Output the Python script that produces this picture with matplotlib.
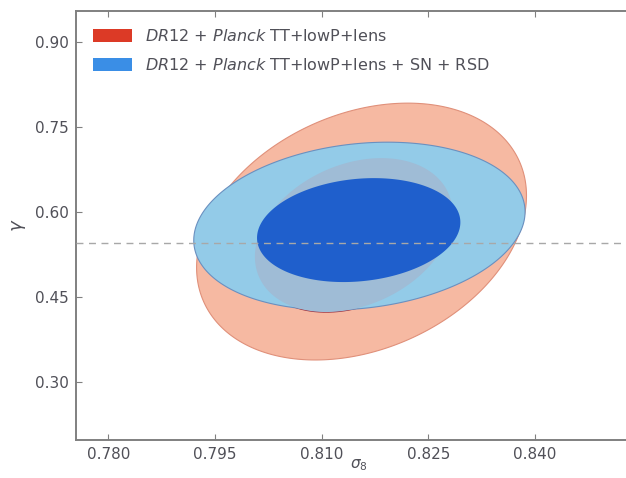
import numpy as np
import matplotlib
matplotlib.use("Agg")
import matplotlib.pyplot as plt
from matplotlib.patches import Patch

# Confidence contours in (sigma_8, gamma): centre, half-extent along each axis, correlation
red_outer = dict(cx=0.8156, cy=0.5658, hx=0.0232, hy=0.2266, rho=0.28)   # 95%
red_inner = dict(cx=0.8145, cy=0.5596, hx=0.0139, hy=0.1358, rho=0.28)   # 68%
blue_outer = dict(cx=0.8153, cy=0.5755, hx=0.0233, hy=0.1480, rho=0.17)  # 95%
blue_inner = dict(cx=0.8152, cy=0.5684, hx=0.0143, hy=0.0917, rho=0.15)  # 68%

gamma_gr = 0.545

x_ticks = [0.780, 0.795, 0.810, 0.825, 0.840]
y_ticks = [0.30, 0.45, 0.60, 0.75, 0.90]

labels = [r"$\mathit{DR12}$ + $\mathit{Planck}$ TT+lowP+lens",
          r"$\mathit{DR12}$ + $\mathit{Planck}$ TT+lowP+lens + SN + RSD"]


def contour(c, n=600):
    t = np.linspace(0, 2 * np.pi, n)
    x = c['cx'] + c['hx'] * np.cos(t)
    y = c['cy'] + c['hy'] * (c['rho'] * np.cos(t) + np.sqrt(1 - c['rho'] ** 2) * np.sin(t))
    return x, y


fig = plt.figure(figsize=(6.26, 4.78), dpi=100)
ax = fig.add_axes([0.121, 0.0795, 0.904, 0.8975])

spine_col = '#808080'
text_col = '#505058'

# red 95% region with a thin darker rim
x, y = contour(red_outer)
ax.fill(x, y, color='#f6b9a2', ec='#e0907a', lw=0.8, zorder=1)
# red 68% rim, only visible where it pokes out of the blue region
x, y = contour(red_inner)
ax.plot(x, y, color='#9a3040', lw=1.0, zorder=2)
# blue 95%
x, y = contour(blue_outer)
ax.fill(x, y, color='#93cbe8', ec='#6a90c0', lw=0.8, zorder=3)
# red 68% seen through the blue
x, y = contour(red_inner)
ax.fill(x, y, color='#9fbcd6', lw=0, zorder=4)
# blue 68%
x, y = contour(blue_inner)
ax.fill(x, y, color='#1f5fcc', lw=0, zorder=5)

ax.axhline(gamma_gr, color='#a8a8a8', ls=(0, (5, 4)), lw=1.0, zorder=6)

ax.set_xlim(0.7754, 0.855)
ax.set_ylim(0.198, 0.955)
ax.set_xticks(x_ticks)
ax.set_xticklabels([f"{v:.3f}" for v in x_ticks])
ax.set_yticks(y_ticks)
ax.set_yticklabels([f"{v:.2f}" for v in y_ticks])
ax.tick_params(direction='in', length=4, width=0.8, colors=spine_col,
               labelcolor=text_col, labelsize=11, top=True, right=True, pad=5)
for s in ax.spines.values():
    s.set_color(spine_col)
    s.set_linewidth(1.4)

ax.set_xlabel(r"$\sigma_8$", color=text_col, fontsize=11, labelpad=-3)
ax.set_ylabel(r"$\gamma$", color=text_col, fontsize=13, labelpad=5)

handles = [Patch(facecolor='#dc3a26', edgecolor='none'),
           Patch(facecolor='#3a8ee6', edgecolor='none')]
leg = ax.legend(handles, labels, loc='upper left', frameon=False, fontsize=11.5,
                handlelength=2.5, handleheight=0.9, handletextpad=0.8,
                labelspacing=0.85, borderaxespad=0.65, bbox_to_anchor=(0.0, 1.0))
for t in leg.get_texts():
    t.set_color(text_col)

fig.savefig('out.png', dpi=100)
